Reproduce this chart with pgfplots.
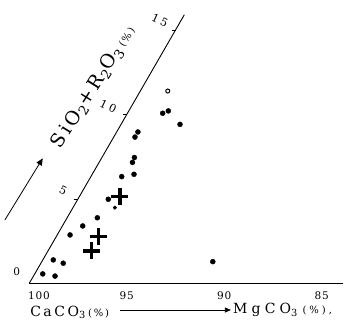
\documentclass[border=0pt]{standalone}
\usepackage{fontspec}
\setmainfont{DejaVu Serif}
\usepackage{pgfplots}
\usepackage{pgfplotstable}
\pgfplotsset{compat=1.18}
\usetikzlibrary{arrows.meta}

% dots: x = horizontal reading (CaCO3 %), y = vertical height in the same units
\pgfplotstableread{
x y
99.31 0.48
98.68 0.37
98.77 1.20
98.26 1.03
97.91 2.48
97.26 2.94
96.51 3.36
95.95 4.31
95.26 5.47
94.63 5.59
94.71 6.20
94.61 6.45
94.58 7.50
94.43 7.76
93.16 8.72
92.87 8.84
92.27 8.15
90.59 1.11
}\dots
\pgfplotstableread{
x y
95.61 3.88
}\smalldots
\pgfplotstableread{
x y
92.90 9.86
}\opendots
\pgfplotstableread{
x y
95.35 4.44
96.46 2.39
96.81 1.66
}\crosses

\begin{document}
\begin{tikzpicture}
\useasboundingbox (0,0) rectangle (354pt,334pt);
\begin{axis}[
  at={(29.3pt,50.7pt)}, anchor=south west,
  x=19.5pt, y=19.5pt,
  x dir=reverse,
  xmin=83.91, xmax=100, ymin=0, ymax=14,
  axis x line=bottom, hide y axis,
  x axis line style={-, line width=0.8pt},
  xtick={99.5,95,90,85}, xticklabels={100,95,90,85},
  major tick length=0pt,
  xticklabel style={font=\addfontfeature{LetterSpace=8}\fontsize{10.5}{12}\selectfont, anchor=north, yshift=-5pt},
  /pgf/number format/assume math mode=true,
  clip=false,
]
% slanted axis (60 degrees)
\addplot[black, line width=0.9pt] coordinates {(100,0) (92.05,13.77)};
% ticks on slanted axis
\addplot[black, line width=0.7pt, forget plot] coordinates {(97.5,4.33) (97.7,4.33)};
\addplot[black, line width=0.7pt, forget plot] coordinates {(95.0,8.66) (95.2,8.66)};
\addplot[black, line width=0.7pt, forget plot] coordinates {(92.5,12.99) (92.7,12.99)};
% data
\addplot[only marks, mark=*, mark size=2.5pt, black] table {\dots};
\addplot[only marks, mark=*, mark size=1.8pt, black] table {\smalldots};
\addplot[only marks, mark=o, mark size=2pt, black, mark options={line width=1pt}] table {\opendots};
\addplot[only marks, mark=+, mark size=8.5pt, black, mark options={line width=3.2pt}] table {\crosses};
% slanted axis labels
\node[font=\fontsize{10.5}{12}\selectfont] at (axis cs:100.65,0.60) {0};
\node[font=\fontsize{11}{13}\selectfont, rotate=-25] at (axis cs:98.26,4.78) {5};
\node[font=\addfontfeature{LetterSpace=25}\fontsize{11}{13}\selectfont, rotate=-25] at (axis cs:95.95,9.06) {10};
\node[font=\addfontfeature{LetterSpace=25}\fontsize{11}{13}\selectfont, rotate=-25] at (axis cs:93.30,13.50) {15};
\node[font=\addfontfeature{LetterSpace=17}\fontsize{19}{22}\selectfont, rotate=58] at (axis cs:96.70,10.05)
  {SiO\textsubscript{2}+R\textsubscript{2}O\textsubscript{3}\,\fontsize{10}{12}\selectfont(\%)};
\draw[line width=0.8pt, -{Triangle[length=7pt,width=6pt]}] (axis cs:101.25,3.25) -- (axis cs:99.31,6.41);
% bottom labels
\node[anchor=base west, inner sep=0pt, font=\addfontfeature{LetterSpace=18}\fontsize{14}{16}\selectfont] at (axis cs:99.96,-1.68)
  {CaCO\textsubscript{3}\,\fontsize{10}{12}\selectfont(\%)};
\draw[line width=0.7pt, -{Triangle[length=6pt,width=5pt]}] (axis cs:95.34,-1.37) -- (axis cs:89.66,-1.37);
\node[anchor=base west, inner sep=0pt, font=\addfontfeature{LetterSpace=30}\fontsize{14}{16}\selectfont] at (axis cs:89.56,-1.57)
  {MgCO\textsubscript{3}\,\,\fontsize{10}{12}\selectfont(\%),};
\end{axis}
\end{tikzpicture}
\end{document}
